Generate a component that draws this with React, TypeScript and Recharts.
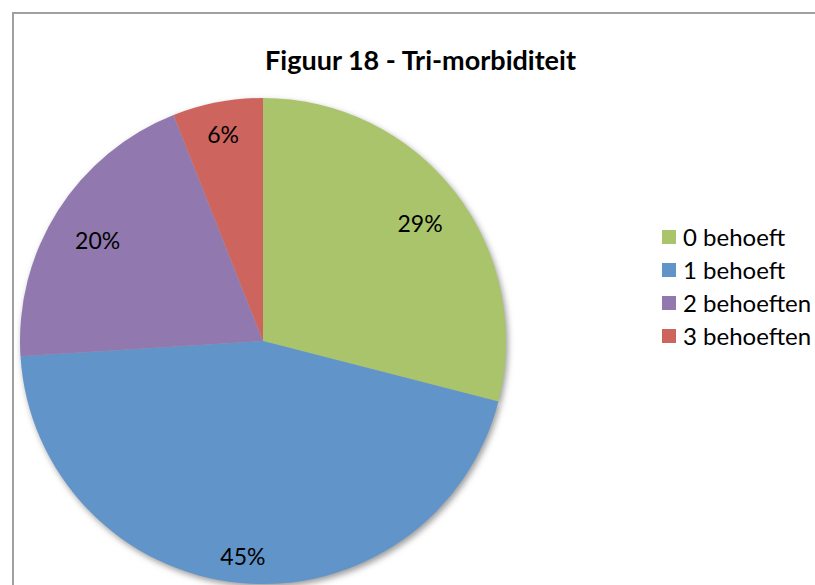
import React from "react";
import { PieChart, Pie, Cell, Legend } from "recharts";

const categories = ["0 behoeft", "1 behoeft", "2 behoeften", "3 behoeften"];
const values = [29, 45, 20, 6];
const colors = ["#A9C46B", "#6194C9", "#9179AF", "#CD645E"];
const title = "Figuur 18 - Tri-morbiditeit";

const data = categories.map((name, i) => ({ name, value: values[i] }));

const FONT = "Lato, 'Open Sans', sans-serif";
const SHADOW = "#9A9A9A";
const RADIAN = Math.PI / 180;

const renderLabel = (props: any) => {
  const { cx, cy, midAngle, outerRadius, percent } = props;
  const s = Math.abs(Math.sin(midAngle * RADIAN));
  const r = outerRadius * (0.72 + 0.16 * s);
  const x = cx + r * Math.cos(-midAngle * RADIAN);
  const y = cy + r * Math.sin(-midAngle * RADIAN) + 2 + 5 * (1 - s);
  return (
    <text
      x={x}
      y={y}
      textAnchor="middle"
      dominantBaseline="central"
      fill="#000"
      fontFamily={FONT}
      fontSize={23}
    >
      {`${Math.round(percent * 100)}%`}
    </text>
  );
};

const renderLegend = (props: any) => {
  const payload = (props.payload || []).filter((it: any) => it.color !== SHADOW);
  return (
    <div style={{ fontFamily: FONT }}>
      {payload.map((item: any, i: number) => (
        <div
          key={i}
          style={{ display: "flex", alignItems: "center", height: 33 }}
        >
          <div
            style={{
              width: 14,
              height: 14,
              background: item.color,
              marginRight: 7,
              flexShrink: 0,
            }}
          />
          <span style={{ fontSize: 24, color: "#000", whiteSpace: "nowrap" }}>
            {item.value}
          </span>
        </div>
      ))}
    </div>
  );
};

export default function App() {
  return (
    <div
      style={{
        position: "absolute",
        left: 0,
        top: 0,
        width: 815,
        height: 585,
        overflow: "hidden",
        background: "#fff",
      }}
    >
      <div
        style={{
          position: "absolute",
          left: 12,
          top: 12,
          width: 900,
          height: 700,
          border: "2px solid #A0A0A0",
          boxSizing: "border-box",
        }}
      />
      <div
        style={{
          position: "absolute",
          left: 0,
          top: 43,
          width: 841,
          textAlign: "center",
          fontFamily: FONT,
          fontWeight: 700,
          fontSize: 27,
          lineHeight: "34px",
          color: "#000",
        }}
      >
        {title}
      </div>
      <div style={{ position: "absolute", left: 0, top: 0 }}>
        <PieChart width={815} height={585} margin={{ top: 0, right: 0, bottom: 0, left: 0 }}>
          <defs>
            <filter id="pieShadow" x="-20%" y="-20%" width="140%" height="140%">
              <feGaussianBlur stdDeviation="3" />
            </filter>
          </defs>
          <Pie
            data={data}
            dataKey="value"
            nameKey="name"
            cx={265}
            cy={344}
            outerRadius={243}
            startAngle={90}
            endAngle={-270}
            isAnimationActive={false}
            stroke="none"
            legendType="none"
          >
            {data.map((d, i) => (
              <Cell key={`s-${i}`} fill={SHADOW} stroke="none" style={{ filter: "url(#pieShadow)" }} />
            ))}
          </Pie>
          <Pie
            data={data}
            dataKey="value"
            nameKey="name"
            cx={263}
            cy={341}
            outerRadius={243}
            startAngle={90}
            endAngle={-270}
            isAnimationActive={false}
            stroke="none"
            label={renderLabel}
            labelLine={false}
          >
            {data.map((d, i) => (
              <Cell key={`c-${i}`} fill={colors[i]} stroke="none" />
            ))}
          </Pie>
          <Legend
            content={renderLegend}
            wrapperStyle={{ position: "absolute", left: 662, top: 220, width: 160 }}
          />
        </PieChart>
      </div>
    </div>
  );
}
